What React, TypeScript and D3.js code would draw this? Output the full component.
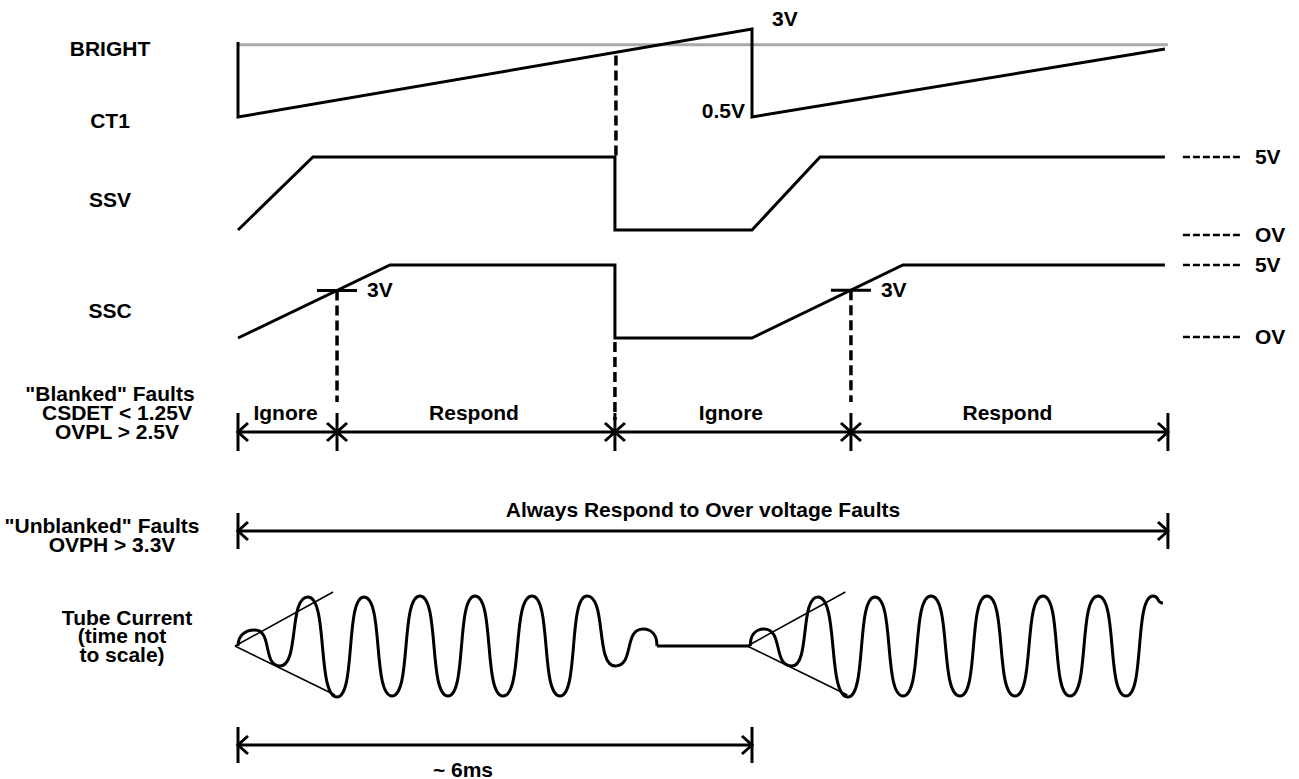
import React from "react";
import * as d3 from "d3";

// ---- data (time in ms) ----
const ct1Points: [number, number][] = [[0, 2.63], [0, 0.5], [6, 3.0], [6, 0.5], [10.82, 2.43]];
const brightLevel = 2.55;
const brightSpan = [0, 10.855];
const ssvPoints: [number, number][] = [[0, 0], [0.875, 5], [4.4, 5], [4.4, 0], [6, 0], [6.794, 5], [10.82, 5]];
const sscPoints: [number, number][] = [[0, 0], [1.774, 5], [4.4, 5], [4.4, 0], [6, 0], [7.762, 5], [10.82, 5]];
const thresholdTimes = [1.156, 7.155];
const faultTime = 4.4;
const resetTime = 6;
const blankedBounds = [0, 1.156, 4.4, 7.155, 10.855];
const blankedLabels = ["Ignore", "Respond", "Ignore", "Respond"];
const unblankedSpan = [0, 10.855];
const periodSpan = [0, 6];
const levelValues = [5, 0];
const levelLabels = ["5V", "OV"];

const burst1Times = [0, 0.198, 0.49, 0.817, 1.156, 1.471, 1.798, 2.124, 2.451, 2.767, 3.093, 3.432, 3.759, 4.074, 4.401, 4.728, 4.891];
const burst1Amps = [0, 0.32, -0.4, 0.98, -1.02, 0.98, -1, 1, -1, 1, -1, 1, -1, 1, -0.4, 0.34, 0];
const gapSpan = [4.891, 5.98];
const burst2Times = [5.98, 6.14, 6.467, 6.77, 7.12, 7.436, 7.763, 8.089, 8.428, 8.743, 9.07, 9.397, 9.712, 10.039, 10.366, 10.681, 10.797];
const burst2Amps = [0, 0.34, -0.4, 0.98, -1.02, 0.98, -1, 1, -1, 1, -1, 1, -1, 1, -1, 1, 0.86];
const envelopeStarts = [0, 5.98];
const envelopeUpper = [1.11, 1.08];
const envelopeLower = [1.133, -0.98];

const leftLabels = [
  ["BRIGHT"], ["CT1"], ["SSV"], ["SSC"],
  ["\"Blanked\" Faults", "CSDET < 1.25V", "OVPL > 2.5V"],
  ["\"Unblanked\" Faults", "OVPH > 3.3V"],
  ["Tube Current", "(time not", "to scale)"],
];

const FONT = "'Liberation Sans', Arial, Helvetica, sans-serif";

// custom d3 curve: horizontal tangents at extrema, vertical tangents where the trace sits on its baseline
function curveLobe(baseY: number) {
  return (context: any) => {
    let px = 0, py = 0, n = 0;
    const onBase = (y: number) => Math.abs(y - baseY) < 1;
    return {
      areaStart() {}, areaEnd() {},
      lineStart() { n = 0; },
      lineEnd() {},
      point(x: number, y: number) {
        if (n === 0) context.moveTo(x, y);
        else {
          const c = 0.7 * (x - px);
          const k = 0.55;
          const c1x = onBase(py) ? px : px + c;
          const c1y = onBase(py) ? py + k * (y - py) : py;
          const c2x = onBase(y) ? x : x - c;
          const c2y = onBase(y) ? y + k * (py - y) : y;
          context.bezierCurveTo(c1x, c1y, c2x, c2y, x, y);
        }
        px = x; py = y; n++;
      },
    };
  };
}

export default function App() {
  const x = d3.scaleLinear().domain([0, 6]).range([238, 752]);
  const yCT1 = d3.scaleLinear().domain([0.5, 3]).range([117, 29]);
  const ySSV = d3.scaleLinear().domain([0, 5]).range([230, 157]);
  const ySSC = d3.scaleLinear().domain([0, 5]).range([338, 265]);
  const yTube = d3.scaleLinear().domain([-1, 1]).range([696, 596]);
  const blankedY = 432;
  const unblankedY = 531;
  const periodY = 745;

  const lineCT1 = d3.line<[number, number]>().x(d => x(d[0])).y(d => yCT1(d[1]));
  const lineSSV = d3.line<[number, number]>().x(d => x(d[0])).y(d => ySSV(d[1]));
  const lineSSC = d3.line<[number, number]>().x(d => x(d[0])).y(d => ySSC(d[1]));
  const tubeLine = d3.line<[number, number]>().x(d => x(d[0])).y(d => yTube(d[1])).curve(curveLobe(yTube(0)) as any);

  const burst1 = burst1Times.map((t, i) => [t, burst1Amps[i]] as [number, number]);
  const burst2 = burst2Times.map((t, i) => [t, burst2Amps[i]] as [number, number]);

  const sscAt = (t: number) => {
    for (let i = 0; i < sscPoints.length - 1; i++) {
      const [t0, v0] = sscPoints[i];
      const [t1, v1] = sscPoints[i + 1];
      if (t >= t0 && t <= t1 && t1 > t0) return v0 + ((t - t0) / (t1 - t0)) * (v1 - v0);
    }
    return 0;
  };
  const ct1At = (t: number) => 0.5 + (t / 6) * (3 - 0.5);

  const textStyle: React.CSSProperties = { fontFamily: FONT, fontWeight: "bold", fontSize: 21 };
  const stroke = "#000";
  const dash = "10 5";

  const arrow = (x1: number, x2: number, y: number, key: string) => (
    <g key={key} stroke={stroke} strokeWidth={3} fill="none">
      <line x1={x1} x2={x2} y1={y} y2={y} />
      <polyline points={`${x1 + 10},${y - 9} ${x1},${y} ${x1 + 10},${y + 9}`} />
      <polyline points={`${x2 - 10},${y - 9} ${x2},${y} ${x2 - 10},${y + 9}`} />
    </g>
  );
  const tick = (xx: number, y: number, h: number, key: string) => (
    <line key={key} x1={xx} x2={xx} y1={y - h} y2={y + h} stroke={stroke} strokeWidth={3} />
  );

  const rightX = x(brightSpan[1]);
  const levelRow = (scale: d3.ScaleLinear<number, number>, v: number, label: string, dy: number, key: string) => {
    const yy = scale(v) + dy;
    return (
      <g key={key}>
        <line x1={rightX + 15} x2={rightX + 72} y1={yy} y2={yy} stroke={stroke} strokeWidth={2.5} strokeDasharray="7 3" />
        <text x={rightX + 87} y={yy + 7} style={textStyle}>{label}</text>
      </g>
    );
  };

  const labelCx = [110, 110, 110, 110];
  const labelBase = [56, 128, 207, 318];

  return (
    <svg width={1299} height={779} style={{ position: "absolute", left: 0, top: 0, background: "#fff" }}>
      {/* left labels */}
      {leftLabels.slice(0, 4).map((l, i) => (
        <text key={"ll" + i} x={labelCx[i]} y={labelBase[i]} textAnchor="middle" style={textStyle}>{l[0]}</text>
      ))}
      <text x={110} y={401} textAnchor="middle" style={textStyle}>{leftLabels[4][0]}</text>
      <text x={117} y={420} textAnchor="middle" style={textStyle}>{leftLabels[4][1]}</text>
      <text x={117} y={439} textAnchor="middle" style={textStyle}>{leftLabels[4][2]}</text>
      <text x={102} y={533} textAnchor="middle" style={textStyle}>{leftLabels[5][0]}</text>
      <text x={112} y={552} textAnchor="middle" style={textStyle}>{leftLabels[5][1]}</text>
      <text x={127} y={625} textAnchor="middle" style={textStyle}>{leftLabels[6][0]}</text>
      <text x={122} y={643} textAnchor="middle" style={textStyle}>{leftLabels[6][1]}</text>
      <text x={122} y={662} textAnchor="middle" style={textStyle}>{leftLabels[6][2]}</text>

      {/* BRIGHT level */}
      <line x1={x(brightSpan[0])} x2={x(brightSpan[1])} y1={yCT1(brightLevel)} y2={yCT1(brightLevel)} stroke="#a9a9a9" strokeWidth={3} />
      {/* CT1 */}
      <path d={lineCT1(ct1Points) || ""} fill="none" stroke={stroke} strokeWidth={3} />
      <text x={x(resetTime) + 20} y={yCT1(3) - 3} style={textStyle}>3V</text>
      <text x={x(resetTime) - 7} y={yCT1(0.5) + 1} textAnchor="end" style={textStyle}>0.5V</text>

      {/* fault dashed line from CT1 to SSV */}
      <line x1={x(faultTime) + 1} x2={x(faultTime) + 1} y1={yCT1(ct1At(faultTime)) + 3} y2={ySSV(5)} stroke={stroke} strokeWidth={3.5} strokeDasharray={dash} />

      {/* SSV */}
      <path d={lineSSV(ssvPoints) || ""} fill="none" stroke={stroke} strokeWidth={3} />
      {levelRow(ySSV, levelValues[0], levelLabels[0], 0, "sv5")}
      {levelRow(ySSV, levelValues[1], levelLabels[1], 5, "sv0")}

      {/* SSC */}
      <path d={lineSSC(sscPoints) || ""} fill="none" stroke={stroke} strokeWidth={3} />
      {levelRow(ySSC, levelValues[0], levelLabels[0], 0, "sc5")}
      {levelRow(ySSC, levelValues[1], levelLabels[1], -1, "sc0")}
      {thresholdTimes.map((t, i) => {
        const xx = x(t);
        const yy = ySSC(sscAt(t));
        return (
          <g key={"th" + i}>
            <line x1={xx - 20} x2={xx + 20} y1={yy} y2={yy} stroke={stroke} strokeWidth={3} />
            <text x={xx + 30} y={yy + 7} style={textStyle}>3V</text>
            <line x1={xx} x2={xx} y1={yy} y2={blankedY - 30} stroke={stroke} strokeWidth={3.5} strokeDasharray={dash} />
          </g>
        );
      })}
      <line x1={x(faultTime)} x2={x(faultTime)} y1={ySSC(0) + 4} y2={blankedY - 12} stroke={stroke} strokeWidth={3.5} strokeDasharray={dash} />

      {/* Blanked faults */}
      {blankedBounds.slice(0, -1).map((b, i) => arrow(x(b), x(blankedBounds[i + 1]), blankedY, "ba" + i))}
      {blankedBounds.map((b, i) => tick(x(b), blankedY, 19, "bt" + i))}
      {blankedLabels.map((l, i) => (
        <text key={"bl" + i} x={(x(blankedBounds[i]) + x(blankedBounds[i + 1])) / 2 - 2} y={blankedY - 12} textAnchor="middle" style={textStyle}>{l}</text>
      ))}

      {/* Unblanked faults */}
      {arrow(x(unblankedSpan[0]), x(unblankedSpan[1]), unblankedY, "ua")}
      {tick(x(unblankedSpan[0]), unblankedY, 18, "ut0")}
      {tick(x(unblankedSpan[1]), unblankedY, 18, "ut1")}
      <text x={(x(unblankedSpan[0]) + x(unblankedSpan[1])) / 2} y={unblankedY - 14} textAnchor="middle" style={textStyle}>Always Respond to Over voltage Faults</text>

      {/* Tube current */}
      {envelopeStarts.map((s, i) => (
        <g key={"env" + i} stroke={stroke} strokeWidth={1.6}>
          <line x1={x(s) - 3} y1={yTube(0)} x2={x(s + envelopeUpper[0])} y2={yTube(envelopeUpper[1])} />
          <line x1={x(s) - 3} y1={yTube(0)} x2={x(s + envelopeLower[0])} y2={yTube(envelopeLower[1])} />
        </g>
      ))}
      <path d={tubeLine(burst1) || ""} fill="none" stroke={stroke} strokeWidth={3} />
      <line x1={x(gapSpan[0])} x2={x(gapSpan[1])} y1={yTube(0)} y2={yTube(0)} stroke={stroke} strokeWidth={3} />
      <path d={tubeLine(burst2) || ""} fill="none" stroke={stroke} strokeWidth={3} />

      {/* period */}
      {arrow(x(periodSpan[0]), x(periodSpan[1]), periodY, "pa")}
      {tick(x(periodSpan[0]), periodY, 18, "pt0")}
      {tick(x(periodSpan[1]), periodY, 18, "pt1")}
      <text x={(x(periodSpan[0]) + x(periodSpan[1])) / 2 - 32} y={777} textAnchor="middle" style={textStyle}>~ 6ms</text>
    </svg>
  );
}
